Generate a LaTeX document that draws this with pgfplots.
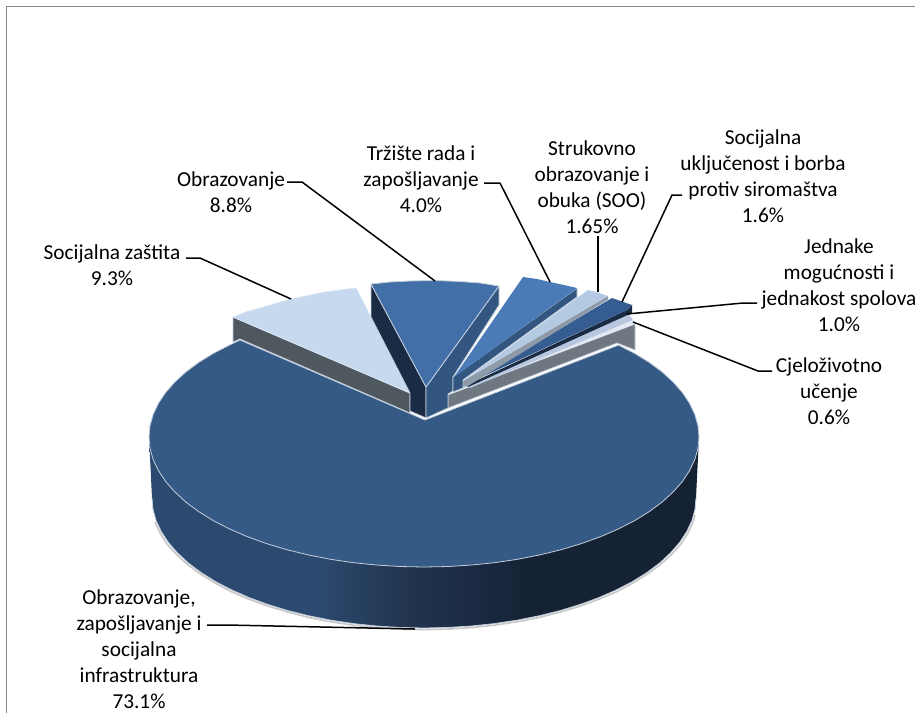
\documentclass[border=0pt]{standalone}
\usepackage{pgfplots}
\pgfplotsset{compat=1.18}
\usepackage{fontspec}
\setmainfont{Carlito}
\definecolor{cmain}{HTML}{355A86}
\definecolor{cedge}{HTML}{C3CEDC}
\definecolor{cdark}{HTML}{1A2C44}
\definecolor{cside}{HTML}{32567F}
\definecolor{cobr}{HTML}{426FA7}
\definecolor{ctrz}{HTML}{4A7BB7}
\definecolor{clight}{HTML}{C6D9EE}
\definecolor{cgrey}{HTML}{50585F}
\definecolor{csoo}{HTML}{B4CAE2}
\definecolor{csoos}{HTML}{8F9AA8}
\definecolor{csoc}{HTML}{355D92}
\definecolor{cjed}{HTML}{B8C6DF}
\definecolor{ccje}{HTML}{E3E9F1}
\definecolor{ccjes}{HTML}{6F7780}
\definecolor{gA}{HTML}{2C4A70}
\definecolor{gB}{HTML}{223650}
\definecolor{gC}{HTML}{1B2A42}
\definecolor{gD}{HTML}{152234}
\pgfdeclarehorizontalshading{sidegrad}{100bp}{color(0bp)=(gA); color(40bp)=(gA); color(48bp)=(gB); color(54.5bp)=(gC); color(60bp)=(gD); color(100bp)=(gD)}
\tikzset{
  lbl/.style={font=\fontsize{21.3}{26}\selectfont, align=center, inner sep=0pt, text=black},
  lead/.style={black, line width=1.5pt},
  slice/.style={line width=0.8pt, draw=cedge},
}
\begin{document}
\begin{tikzpicture}
\begin{axis}[
  scale only axis, width=915pt, height=713pt,
  xmin=0, xmax=915, ymin=0, ymax=713, y dir=reverse,
  axis lines=none, clip=false,
  no markers,
  every axis plot/.append style={line join=round},
]
% frame
\addplot[color=black!47, line width=1.5pt] coordinates {(6.7,713)(6.7,6.5)(915,6.5)};
% shadow under the pie
\addplot[color=black!22, line width=1.6pt] coordinates {
(695,515)(693,522)(688,533)(681,544)(671.5,554.5)(660.5,564.5)(647.5,574)(633,583)(617,591.5)(599.5,599)(580.5,606)(560.5,612)(539,617.5)(517,621.8)(494.4,625.2)(471.2,627.6)(447.7,629.1)(424,629.6)(400.3,629.1)(376.8,627.6)(353.6,625.2)(331,621.8)(309,617.5)(288,612)(267.5,606)(248.5,599)(231,591.5)(215,583)(200.5,574)(187.5,564.5)(176.5,554.5)(167,544)(160,533)(155,522)};
% main side with gradient
\addplot[draw=none, shading=sidegrad] coordinates {
(699,437)(696,498)(695,509.3)(691.9,520.6)(686.7,531.6)(679.6,542.5)(670.5,552.9)(659.6,563)(646.8,572.6)(632.4,581.6)(616.3,589.9)(598.8,597.6)(580,604.5)(560,610.6)(539,615.8)(517,620.2)(494.4,623.6)(471.2,626)(447.7,627.5)(424,628)(400.3,627.5)(376.8,626)(353.6,623.6)(331,620.2)(309,615.8)(288,610.6)(268,604.5)(249.2,597.6)(231.7,589.9)(215.6,581.6)(201.2,572.6)(188.4,563)(177.5,552.9)(168.4,542.5)(161.3,531.6)(156.1,520.6)(153,509.3)(152,498)(149,437)} --cycle;
\addplot[color=cedge, line width=0.8pt] coordinates {
(696,498)(695,509.3)(691.9,520.6)(686.7,531.6)(679.6,542.5)(670.5,552.9)(659.6,563)(646.8,572.6)(632.4,581.6)(616.3,589.9)(598.8,597.6)(580,604.5)(560,610.6)(539,615.8)(517,620.2)(494.4,623.6)(471.2,626)(447.7,627.5)(424,628)(400.3,627.5)(376.8,626)(353.6,623.6)(331,620.2)(309,615.8)(288,610.6)(268,604.5)(249.2,597.6)(231.7,589.9)(215.6,581.6)(201.2,572.6)(188.4,563)(177.5,552.9)(168.4,542.5)(161.3,531.6)(156.1,520.6)(153,509.3)(152,498)};
% Socijalna zastita side
\addplot[slice, fill=cgrey] coordinates {(233,317)(410,393)(410,413)(240,339)(233,342)} --cycle;
% Cjelozivotno side
\addplot[slice, fill=ccjes] coordinates {(635,324)(635,350)(617,343)(448,408)(448,395)(453,393)} --cycle;
% main top
\addplot[slice, fill=cmain] coordinates {
(425,420)(618.5,345.1)(634.7,353.4)(649.3,362.4)(662.2,372)(673.2,382.1)(682.4,392.5)(689.6,403.4)(694.8,414.4)(698,425.7)(699,437)(698,448.3)(694.8,459.6)(689.6,470.6)(682.4,481.5)(673.2,491.9)(662.2,502)(649.3,511.6)(634.7,520.6)(618.5,528.9)(600.8,536.6)(581.7,543.5)(561.5,549.6)(540.2,554.8)(518.1,559.2)(495.2,562.6)(471.8,565)(448,566.5)(424,567)(400,566.5)(376.2,565)(352.8,562.6)(329.9,559.2)(307.8,554.8)(286.5,549.6)(266.3,543.5)(247.2,536.6)(229.5,528.9)(213.3,520.6)(198.7,511.6)(185.8,502)(174.8,491.9)(165.6,481.5)(158.4,470.6)(153.2,459.6)(150,448.3)(149,437)(150,425.7)(153.2,414.4)(158.4,403.4)(165.6,392.5)(174.8,382.1)(185.8,372)(198.7,362.4)(213.3,353.4)(229.5,345.1)(240,340)} --cycle;
% Socijalna zastita top
\addplot[fill=clight, draw=clight!70!white, line width=0.8pt] coordinates {(410,393)(233,317)(246,312)(260,308)(291,299)(325,292)(356,288)} --cycle;
% Obrazovanje sides and top
\addplot[slice, fill=cdark] coordinates {(371,284)(426,387)(426,418)(410,411)(410,393)(371,317)} --cycle;
\addplot[slice, fill=cside] coordinates {(499,286)(499,305)(453,377)(453,391)(448,394)(448,408)(426,418)(426,387)} --cycle;
\addplot[slice, fill=cobr] coordinates {(426,387)(371,284)(390,282)(410,281)(435,280.5)(460,281.5)(480,283)(499,286)} --cycle;
% Cjelozivotno top (thin strip)
\addplot[fill=ccje, draw=none] coordinates {(633,320)(635,324)(453,393)(460,388)} --cycle;
% Jednake top
\addplot[fill=cjed, draw=none] coordinates {(468,386)(628,313)(633,320)(470,388)} --cycle;
% Socijalna ukljucenost
\addplot[fill=cdark, draw=none] coordinates {(627,310)(632,305)(632,313)(468,387)(467,385)} --cycle;
\addplot[fill=csoc, draw=none] coordinates {(467,384)(612,298)(632,305)(627,310)} --cycle;
% SOO
\addplot[fill=csoos, draw=none] coordinates {(608,296)(608,299.5)(468,386)(463,387)(463,381)} --cycle;
\addplot[fill=csoo, draw=none] coordinates {(463,381)(588,290)(598,292.5)(608,296)} --cycle;
% Trziste
\addplot[slice, fill=cside] coordinates {(577,288)(577,297)(463,380)(463,388)(453,392)(453,377)} --cycle;
\addplot[fill=ctrz, draw=none] coordinates {(454,377)(523,277)(537,279)(550,282)(564,285)(577,288)} --cycle;
% leaders
\addplot[lead] coordinates {(186,258)(200,258)(291,299)};
\addplot[lead] coordinates {(287,182)(302,182)(435,281)};
\addplot[lead] coordinates {(484,183)(500,183)(550,282)};
\addplot[lead] coordinates {(598,236)(598,292)};
\addplot[lead] coordinates {(682,195)(672,195)(622,302)};
\addplot[lead] coordinates {(757,303)(743,303)(627,314)};
\addplot[lead] coordinates {(772,371)(758,371)(633,322)};
\addplot[lead] coordinates {(207,625)(227,625)(415,629)};
% labels
\node[lbl] at (axis cs:231,192) {Obrazovanje\\8.8\%};
\node[lbl] at (axis cs:112,265) {Socijalna zaštita\\9.3\%};
\node[lbl] at (axis cs:421,179) {Tržište rada i\\zapošljavanje\\4.0\%};
\node[lbl] at (axis cs:592,187) {Strukovno\\obrazovanje i\\obuka (SOO)\\1.65\%};
\node[lbl] at (axis cs:763,176) {Socijalna\\uključenost i borba\\protiv siromaštva\\1.6\%};
\node[lbl] at (axis cs:839,285) {Jednake\\mogućnosti i\\jednakost spolova\\1.0\%};
\node[lbl] at (axis cs:829,391) {Cjeloživotno\\učenje\\0.6\%};
\node[lbl] at (axis cs:139,649.5) {Obrazovanje,\\zapošljavanje i\\socijalna\\infrastruktura\\73.1\%};
\end{axis}
\pgfresetboundingbox
\path[use as bounding box] (0,0) rectangle (915pt,713pt);
\end{tikzpicture}
\end{document}
